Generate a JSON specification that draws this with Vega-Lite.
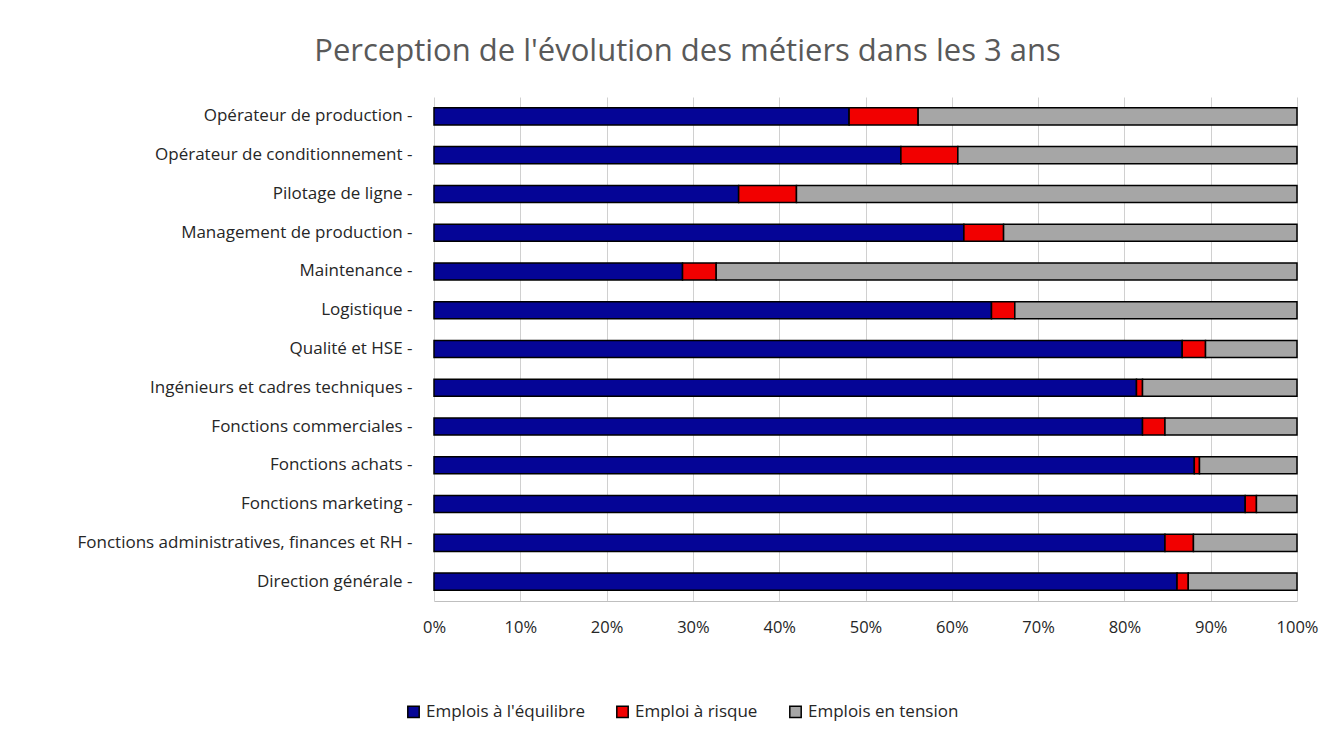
{
  "$schema": "https://vega.github.io/schema/vega-lite/v6.json",
  "autosize": "none",
  "width": 863,
  "height": 504,
  "padding": {"left": 434, "top": 97, "right": 32, "bottom": 135},
  "background": "white",
  "title": {
    "text": "Perception de l'évolution des métiers dans les 3 ans",
    "anchor": "middle",
    "frame": "bounds",
    "font": "Open Sans",
    "fontSize": 31,
    "fontWeight": "normal",
    "color": "#595959",
    "offset": 29,
    "dx": -10
  },
  "config": {
    "view": {"stroke": null},
    "font": "Open Sans"
  },
  "data": {
    "values": [
      {"metier": "Opérateur de production -", "serie": "Emplois à l'équilibre", "k": 1, "v": 48.1},
      {"metier": "Opérateur de production -", "serie": "Emploi à risque", "k": 2, "v": 8.0},
      {"metier": "Opérateur de production -", "serie": "Emplois en tension", "k": 3, "v": 43.9},
      {"metier": "Opérateur de conditionnement -", "serie": "Emplois à l'équilibre", "k": 1, "v": 54.1},
      {"metier": "Opérateur de conditionnement -", "serie": "Emploi à risque", "k": 2, "v": 6.6},
      {"metier": "Opérateur de conditionnement -", "serie": "Emplois en tension", "k": 3, "v": 39.3},
      {"metier": "Pilotage de ligne -", "serie": "Emplois à l'équilibre", "k": 1, "v": 35.3},
      {"metier": "Pilotage de ligne -", "serie": "Emploi à risque", "k": 2, "v": 6.7},
      {"metier": "Pilotage de ligne -", "serie": "Emplois en tension", "k": 3, "v": 58.0},
      {"metier": "Management de production -", "serie": "Emplois à l'équilibre", "k": 1, "v": 61.4},
      {"metier": "Management de production -", "serie": "Emploi à risque", "k": 2, "v": 4.6},
      {"metier": "Management de production -", "serie": "Emplois en tension", "k": 3, "v": 34.0},
      {"metier": "Maintenance -", "serie": "Emplois à l'équilibre", "k": 1, "v": 28.8},
      {"metier": "Maintenance -", "serie": "Emploi à risque", "k": 2, "v": 3.9},
      {"metier": "Maintenance -", "serie": "Emplois en tension", "k": 3, "v": 67.3},
      {"metier": "Logistique -", "serie": "Emplois à l'équilibre", "k": 1, "v": 64.6},
      {"metier": "Logistique -", "serie": "Emploi à risque", "k": 2, "v": 2.7},
      {"metier": "Logistique -", "serie": "Emplois en tension", "k": 3, "v": 32.7},
      {"metier": "Qualité et HSE  -", "serie": "Emplois à l'équilibre", "k": 1, "v": 86.7},
      {"metier": "Qualité et HSE  -", "serie": "Emploi à risque", "k": 2, "v": 2.7},
      {"metier": "Qualité et HSE  -", "serie": "Emplois en tension", "k": 3, "v": 10.6},
      {"metier": "Ingénieurs et cadres techniques -", "serie": "Emplois à l'équilibre", "k": 1, "v": 81.4},
      {"metier": "Ingénieurs et cadres techniques -", "serie": "Emploi à risque", "k": 2, "v": 0.7},
      {"metier": "Ingénieurs et cadres techniques -", "serie": "Emplois en tension", "k": 3, "v": 17.9},
      {"metier": "Fonctions commerciales -", "serie": "Emplois à l'équilibre", "k": 1, "v": 82.1},
      {"metier": "Fonctions commerciales -", "serie": "Emploi à risque", "k": 2, "v": 2.6},
      {"metier": "Fonctions commerciales -", "serie": "Emplois en tension", "k": 3, "v": 15.3},
      {"metier": "Fonctions achats -", "serie": "Emplois à l'équilibre", "k": 1, "v": 88.1},
      {"metier": "Fonctions achats -", "serie": "Emploi à risque", "k": 2, "v": 0.6},
      {"metier": "Fonctions achats -", "serie": "Emplois en tension", "k": 3, "v": 11.3},
      {"metier": "Fonctions  marketing -", "serie": "Emplois à l'équilibre", "k": 1, "v": 94.0},
      {"metier": "Fonctions  marketing -", "serie": "Emploi à risque", "k": 2, "v": 1.3},
      {"metier": "Fonctions  marketing -", "serie": "Emplois en tension", "k": 3, "v": 4.7},
      {"metier": "Fonctions administratives, finances et RH -", "serie": "Emplois à l'équilibre", "k": 1, "v": 84.7},
      {"metier": "Fonctions administratives, finances et RH -", "serie": "Emploi à risque", "k": 2, "v": 3.3},
      {"metier": "Fonctions administratives, finances et RH -", "serie": "Emplois en tension", "k": 3, "v": 12.0},
      {"metier": "Direction générale -", "serie": "Emplois à l'équilibre", "k": 1, "v": 86.1},
      {"metier": "Direction générale -", "serie": "Emploi à risque", "k": 2, "v": 1.3},
      {"metier": "Direction générale -", "serie": "Emplois en tension", "k": 3, "v": 12.6}
    ]
  },
  "mark": {"type": "bar", "stroke": "black", "strokeWidth": 1.5},
  "encoding": {
    "y": {
      "field": "metier",
      "type": "nominal",
      "sort": null,
      "scale": {"paddingInner": 0.56, "paddingOuter": 0.28},
      "axis": {
        "title": null,
        "domain": false,
        "ticks": false,
        "labelPadding": 22,
        "labelFontSize": 17,
        "labelColor": "#262626",
        "labelFont": "Open Sans",
        "labelLimit": 420
      }
    },
    "x": {
      "field": "v",
      "type": "quantitative",
      "stack": "normalize",
      "scale": {"domain": [0, 1], "nice": false},
      "axis": {
        "title": null,
        "format": ".0%",
        "values": [0, 0.1, 0.2, 0.3, 0.4, 0.5, 0.6, 0.7, 0.8, 0.9, 1],
        "grid": true,
        "gridColor": "#D0D0D0",
        "gridWidth": 1,
        "domain": true,
        "domainColor": "#BFBFBF",
        "ticks": false,
        "labelFlush": false,
        "labelPadding": 18,
        "labelFontSize": 16.5,
        "labelColor": "#262626",
        "labelFont": "Open Sans"
      }
    },
    "color": {
      "field": "serie",
      "type": "nominal",
      "scale": {
        "domain": ["Emplois à l'équilibre", "Emploi à risque", "Emplois en tension"],
        "range": ["#050596", "#F20000", "#A6A6A6"]
      },
      "legend": {
        "title": null,
        "orient": "none",
        "direction": "horizontal",
        "legendX": -29,
        "legendY": 606,
        "symbolType": "square",
        "symbolSize": 130,
        "symbolStrokeColor": "black",
        "symbolStrokeWidth": 1.5,
        "labelFontSize": 17,
        "labelColor": "#262626",
        "labelFont": "Open Sans",
        "labelOffset": 4,
        "columnPadding": 28,
        "labelLimit": 300
      }
    },
    "order": {"field": "k", "type": "quantitative"}
  }
}
